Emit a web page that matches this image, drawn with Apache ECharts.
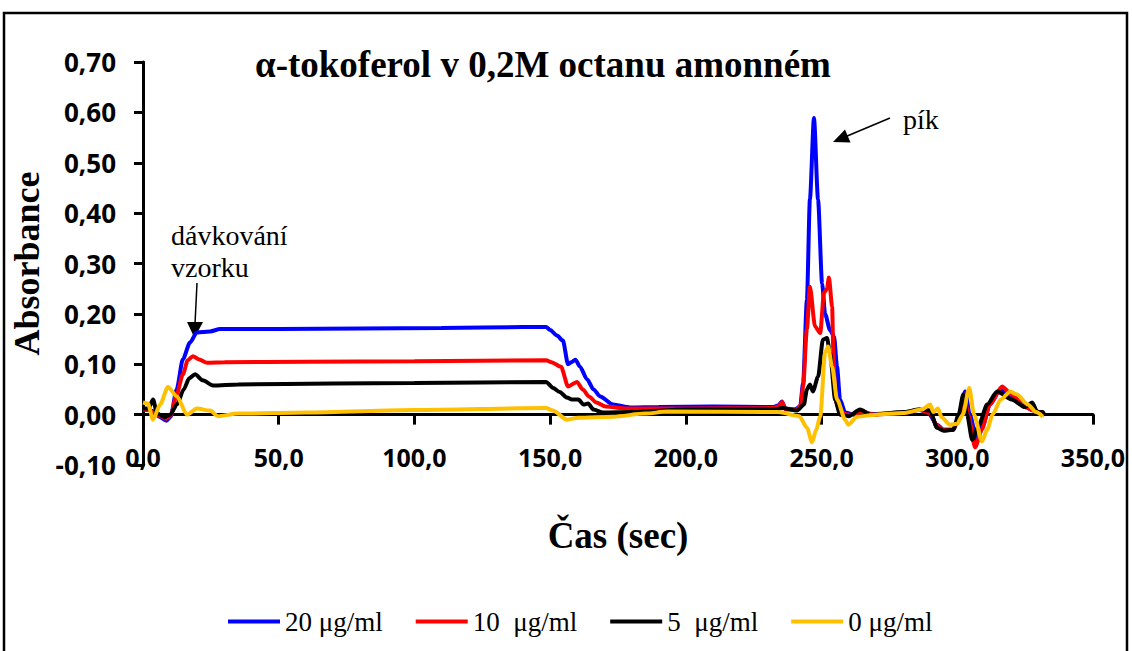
<!DOCTYPE html>
<html><head><meta charset="utf-8">
<script src="https://cdn.jsdelivr.net/npm/echarts@6/dist/echarts.min.js"></script>
<style>html,body{margin:0;padding:0;background:#fff}#c{width:1132px;height:651px}</style>
</head><body><div id="c"></div>
<script>
const seriesNames = ['20 μg/ml', '10  μg/ml', '5  μg/ml', '0 μg/ml'];
const seriesColors = ['#0000FF', '#FF0000', '#000000', '#FFC000'];
const titleText = 'α-tokoferol v 0,2M octanu amonném';
const xName = 'Čas (sec)';
const yName = 'Absorbance';

// [time (s), absorbance]
const conc20 = [
[0,0.012],[2,0.01],[4,0.006],[6,-0.004],[8.6,-0.012],[10.2,-0.004],[12.4,0.05],[14.7,0.11],[17.3,0.143],[19.8,0.163],[22,0.164],[24.7,0.165],[28.4,0.17],[50,0.17],[80,0.171],[110,0.172],[140,0.174],[148.5,0.174],[150,0.168],[152.5,0.157],[154.7,0.147],[156.6,0.1],[157.8,0.104],[159.3,0.109],[161,0.095],[163.6,0.07],[166,0.05],[168.4,0.036],[173.2,0.02],[179.5,0.014],[190,0.015],[210,0.016],[232,0.015],[234,0.018],[235.4,0.026],[236.6,0.012],[240,0.01],[242.1,0.016],[243.2,0.063],[244.6,0.228],[245.7,0.427],[247.2,0.589],[248.7,0.427],[250.2,0.26],[251.3,0.2],[253.1,0.168],[254.6,0.155],[255.7,0.095],[256.8,0.03],[258.7,0.004],[262,0.0],[264.5,0.008],[268,0.001],[280,0.003],[286,0.009],[289,0.006],[292.5,-0.02],[295,-0.03],[298.5,-0.03],[300.5,-0.008],[302.9,0.046],[304.6,0.0],[307.3,-0.053],[309.5,-0.02],[312,0.02],[315.8,0.05],[320,0.036],[325.6,0.014],[328,0.008],[332,0.0]
];
const conc10 = [
[0,0.01],[2,0.009],[4,0.004],[6,-0.002],[8.6,-0.008],[10.2,-0.002],[12.4,0.04],[14.7,0.08],[16.5,0.108],[18.4,0.116],[20.5,0.11],[23.6,0.103],[30,0.104],[60,0.105],[100,0.106],[148.5,0.108],[150.5,0.104],[154,0.095],[156.6,0.056],[159.9,0.065],[162,0.05],[164.3,0.036],[167,0.024],[170.4,0.016],[178,0.012],[200,0.012],[232,0.013],[234,0.016],[235.4,0.025],[236.8,0.01],[241,0.01],[242.4,0.02],[243.2,0.056],[244.6,0.17],[245.7,0.254],[247.6,0.175],[249.5,0.162],[250.9,0.242],[252,0.25],[252.7,0.272],[253.9,0.214],[254.3,0.13],[255,0.03],[256.8,0.004],[260,0.0],[265,0.005],[270,0.0],[280,0.003],[286,0.01],[290,0.003],[292.5,-0.022],[295,-0.03],[298.5,-0.03],[300.5,-0.005],[302.5,0.04],[304,0.0],[306.6,-0.065],[309,-0.03],[312,0.02],[316.5,0.056],[320,0.04],[325,0.015],[328,0.008],[332,0.0]
];
const conc5 = [
[0,0.012],[2,0.012],[3.7,0.03],[5.2,0.002],[8,-0.005],[10,0.0],[12.5,0.02],[15,0.05],[17,0.072],[19.2,0.08],[22,0.068],[25.8,0.058],[35,0.06],[70,0.062],[100,0.063],[148.5,0.065],[151.1,0.053],[153.5,0.045],[156.2,0.034],[158,0.03],[160.4,0.03],[162.3,0.02],[164,0.022],[166,0.01],[169.5,0.004],[180,0.005],[200,0.01],[232,0.01],[235.5,0.013],[241,0.008],[243.5,0.02],[244.6,0.05],[245.7,0.06],[246.8,0.046],[248.7,0.075],[250.5,0.149],[252,0.152],[253.1,0.123],[255,0.03],[256.8,0.0],[260,-0.003],[264.2,0.01],[268,0.0],[280,0.005],[286,0.01],[290,0.008],[292.5,-0.026],[295,-0.032],[298.5,-0.03],[300.5,0.0],[302.2,0.04],[303.6,0.0],[305.5,-0.05],[308,-0.02],[311,0.02],[314.7,0.046],[320,0.03],[325,0.015],[327.6,0.024],[329.5,0.005],[331.5,0.005],[332,0.0]
];
const conc0 = [
[0,0.024],[1.8,0.022],[3.7,-0.01],[6.3,0.02],[9.2,0.055],[12.5,0.036],[16.2,0.0],[19.9,0.012],[24.7,0.008],[27.6,-0.003],[35,0.002],[60,0.004],[100,0.009],[148.5,0.013],[151,0.008],[156.2,-0.01],[160.4,-0.006],[173.2,-0.004],[185,0.002],[193,0.006],[234,0.005],[241.8,-0.003],[244.6,-0.026],[246.5,-0.055],[248,-0.03],[249.5,-0.004],[251.3,0.123],[252.4,0.135],[253.9,0.095],[255.7,0.03],[258.7,-0.01],[259.8,-0.02],[263.1,-0.004],[270,0.0],[280,0.003],[287,0.01],[290,0.02],[291.2,0.005],[292.9,0.012],[294.2,-0.005],[297.3,-0.02],[300,-0.018],[302,0.0],[304.4,0.053],[306.2,0.0],[309.1,-0.053],[311,-0.03],[313,0.0],[316,0.03],[319.5,0.046],[322,0.04],[326,0.02],[329,0.005],[331.5,-0.004]
];
const seriesData = [conc20, conc10, conc5, conc0];

const yMin = -0.1, yMax = 0.7;
const W = 1132, H = 651;
const gridCfg = {left: 143, right: 39, top: 62, bottom: 186, containLabel: false};
// x axis sits on y = 0: shift it up from the grid bottom by the scale distance of (0 - yMin)
const plotH = H - gridCfg.top - gridCfg.bottom;
const xAxisOffset = -plotH * (0 - yMin) / (yMax - yMin);

const serif = "'Times New Roman', 'Liberation Serif', serif";
const sans = "'Open Sans', 'Liberation Sans', sans-serif";

const chart = echarts.init(document.getElementById('c'), null, {renderer: 'svg'});
chart.setOption({
  backgroundColor: '#fff',
  animation: false,
  title: {
    text: titleText, left: 250, top: 41,
    textStyle: {fontFamily: serif, fontSize: 37, fontWeight: 'bold', color: '#000'}
  },
  legend: {
    data: seriesNames, left: 228, top: 608, padding: 0, itemGap: 33, itemWidth: 52, itemHeight: 4,
    icon: 'rect',
    textStyle: {fontFamily: serif, fontSize: 27, color: '#000'}
  },
  grid: gridCfg,
  xAxis: {
    type: 'value', min: 0, max: 350, interval: 50,
    offset: xAxisOffset,
    name: xName, nameLocation: 'middle', nameGap: 102,
    nameTextStyle: {fontFamily: serif, fontSize: 37, fontWeight: 'bold', color: '#000'},
    axisLine: {show: true, onZero: false, lineStyle: {color: '#000', width: 3}},
    axisTick: {show: true, inside: false, length: 10, lineStyle: {color: '#000', width: 3}},
    axisLabel: {margin: 30, fontFamily: sans, fontSize: 25, fontWeight: 'bold', color: '#000',
      formatter: v => v.toFixed(1).replace('.', ',')},
    splitLine: {show: false}
  },
  yAxis: {
    type: 'value', min: yMin, max: yMax, interval: 0.1,
    name: yName, nameLocation: 'middle', nameGap: 98, nameRotate: 90,
    nameTextStyle: {fontFamily: serif, fontSize: 36, fontWeight: 'bold', color: '#000'},
    axisLine: {show: true, onZero: false, lineStyle: {color: '#000', width: 3}},
    axisTick: {show: true, length: 9, lineStyle: {color: '#000', width: 3}},
    axisLabel: {margin: 27, fontFamily: sans, fontSize: 26, fontWeight: 'bold', color: '#000',
      formatter: v => v.toFixed(2).replace('.', ',')},
    splitLine: {show: false}
  },
  series: seriesNames.map((n, i) => ({
    name: n, type: 'line', data: seriesData[i], symbol: 'none', showSymbol: false,
    smooth: 0.25, smoothMonotone: 'x',
    color: seriesColors[i],
    lineStyle: {color: seriesColors[i], width: 4}
  })),
  graphic: [
    {type: 'rect', shape: {x: 4, y: 13, width: 1123, height: 700}, style: {fill: 'none', stroke: '#000', lineWidth: 2.5}, silent: true},
    {type: 'text', x: 171, y: 219, style: {text: 'dávkování\nvzorku', font: "28px 'Times New Roman', 'Liberation Serif', serif", fill: '#000', lineHeight: 32, textVerticalAlign: 'top'}},
    {type: 'line', shape: {x1: 197, y1: 283, x2: 195, y2: 324}, style: {stroke: '#000', lineWidth: 1.5}},
    {type: 'polygon', shape: {points: [[187, 322], [203, 322], [194.5, 338]]}, style: {fill: '#000'}},
    {type: 'text', x: 903, y: 119, style: {text: 'pík', font: "28px 'Times New Roman', 'Liberation Serif', serif", fill: '#000', textVerticalAlign: 'middle'}},
    {type: 'line', shape: {x1: 890, y1: 118, x2: 846, y2: 136.5}, style: {stroke: '#000', lineWidth: 1.5}},
    {type: 'polygon', shape: {points: [[833, 142], [845, 129.5], [850.5, 142.5]]}, style: {fill: '#000'}}
  ]
});
</script></body></html>
